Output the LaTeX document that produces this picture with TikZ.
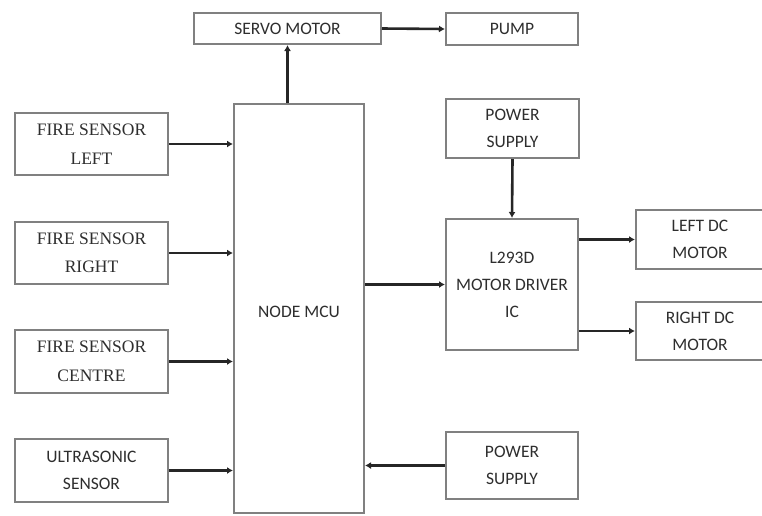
\documentclass[tikz,border=0pt]{standalone}
\usepackage{fontspec}
\setmainfont{Carlito}
\newfontfamily\serifl{Liberation Serif}
\usetikzlibrary{arrows.meta}
\begin{document}
\begin{tikzpicture}[x=1pt,y=-1pt,
  blk/.style={draw=black!50,line width=2pt,rectangle,align=center,inner sep=0pt,text=black!82,
    font=\fontsize{17.5}{27}\selectfont},
  sblk/.style={blk,font=\serifl\fontsize{17.5}{28.5}\selectfont},
  arr/.style={draw=black!85,line width=2.6pt,-{Latex[length=6pt,width=7pt]}}]
\useasboundingbox (0,0) rectangle (762,515);
\fill[white] (0,0) rectangle (762,515);
\node[blk,minimum width=187pt,minimum height=31pt] (servo) at (287.5,28.5) {SERVO MOTOR};
\node[blk,minimum width=132pt,minimum height=32pt] (pump) at (512,29) {PUMP};
\node[sblk,minimum width=153pt,minimum height=62pt] (fsl) at (91.5,144) {FIRE SENSOR\\LEFT};
\node[sblk,minimum width=153pt,minimum height=62pt] (fsr) at (91.5,253) {FIRE SENSOR\\RIGHT};
\node[sblk,minimum width=153pt,minimum height=63pt] (fsc) at (91.5,361.5) {FIRE SENSOR\\CENTRE};
\node[blk,minimum width=153pt,minimum height=63pt] (us) at (91.5,470.5) {ULTRASONIC\\SENSOR};
\node[blk,minimum width=130pt,minimum height=409pt] (mcu) at (299,308.5) {};
\node[text=black!82,font=\fontsize{17.5}{27}\selectfont] (mcut) at (299,312) {NODE MCU};
\node[blk,minimum width=133pt,minimum height=59pt] (ps1) at (512.5,128.5) {POWER\\SUPPLY};
\node[blk,minimum width=132pt,minimum height=131pt] (drv) at (512,284.5) {L293D\\MOTOR DRIVER\\IC};
\node[blk,minimum width=128pt,minimum height=59pt] (ldc) at (700,239.5) {LEFT DC\\MOTOR};
\node[blk,minimum width=128pt,minimum height=58pt] (rdc) at (700,331) {RIGHT DC\\MOTOR};
\node[blk,minimum width=132pt,minimum height=67pt] (ps2) at (512,465.5) {POWER\\SUPPLY};
\draw[arr] (servo.south |- mcu.north) -- (servo.south);
\draw[arr] (servo.east) -- (pump.west);
\draw[arr] (fsl.east) -- (fsl.east -| mcu.west);
\draw[arr] (fsr.east) -- (fsr.east -| mcu.west);
\draw[arr] (fsc.east) -- (fsc.east -| mcu.west);
\draw[arr] (us.east) -- (us.east -| mcu.west);
\draw[arr] (drv.west -| mcu.east) -- (drv.west);
\draw[arr] (ps1.south) -- (drv.north);
\draw[arr] (ldc.west -| drv.east) -- (ldc.west);
\draw[arr] (rdc.west -| drv.east) -- (rdc.west);
\draw[arr] (ps2.west) -- (ps2.west -| mcu.east);
\end{tikzpicture}
\end{document}
